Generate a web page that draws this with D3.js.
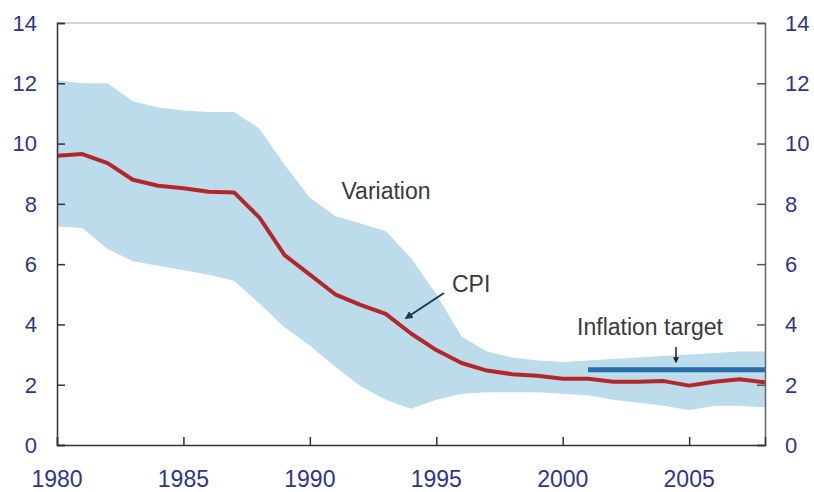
<!DOCTYPE html>
<html>
<head>
<meta charset="utf-8">
<script src="https://cdn.jsdelivr.net/npm/d3@7"></script>
<style>
  body { margin: 0; background: #fff; }
  text { font-family: Arial, "Liberation Sans", sans-serif; }
</style>
</head>
<body>
<div id="chart"></div>
<script>
const years = [1980, 1981, 1982, 1983, 1984, 1985, 1986, 1987, 1988, 1989,
    1990, 1991, 1992, 1993, 1994, 1995, 1996, 1997, 1998, 1999,
    2000, 2001, 2002, 2003, 2004, 2005, 2006, 2007, 2008];
const cpi = [9.6, 9.65, 9.35, 8.8, 8.6, 8.52, 8.4, 8.38, 7.55, 6.3,
    5.65, 5.0, 4.65, 4.35, 3.7, 3.15, 2.72, 2.47, 2.35, 2.3,
    2.2, 2.2, 2.1, 2.1, 2.12, 1.97, 2.1, 2.18, 2.08];
const upper = [12.1, 12.0, 12.0, 11.4, 11.2, 11.1, 11.05, 11.05, 10.5, 9.3,
    8.2, 7.6, 7.35, 7.1, 6.2, 5.0, 3.6, 3.1, 2.9, 2.8,
    2.75, 2.8, 2.85, 2.9, 2.95, 3.0, 3.05, 3.1, 3.1];
const lower = [7.25, 7.2, 6.5, 6.1, 5.95, 5.8, 5.65, 5.45, 4.7, 3.9,
    3.3, 2.6, 1.95, 1.5, 1.2, 1.5, 1.7, 1.75, 1.75, 1.75,
    1.7, 1.65, 1.5, 1.4, 1.3, 1.15, 1.3, 1.3, 1.25];
const targetYears = [2001, 2008];
const targetValue = 2.5;
const yTicks = [0, 2, 4, 6, 8, 10, 12, 14];
const xTicks = [1980, 1985, 1990, 1995, 2000, 2005];

const width = 814;
const height = 492;
const margin = { top: 23, right: 49, bottom: 47, left: 57 };

const svg = d3.select("#chart").append("svg")
    .attr("width", width)
    .attr("height", height);

const x = d3.scaleLinear().domain([1980, 2008]).range([margin.left, width - margin.right]);
const y = d3.scaleLinear().domain([0, 14]).range([height - margin.bottom, margin.top]);

const rows = years.map((yr, i) => ({ yr: yr, cpi: cpi[i], hi: upper[i], lo: lower[i] }));

// variation band
svg.append("path")
    .datum(rows)
    .attr("fill", "#bcdcec")
    .attr("d", d3.area()
        .x(d => x(d.yr))
        .y0(d => y(d.lo))
        .y1(d => y(d.hi)));

// inflation target
svg.append("line")
    .attr("x1", x(targetYears[0]))
    .attr("x2", x(targetYears[1]))
    .attr("y1", y(targetValue))
    .attr("y2", y(targetValue))
    .attr("stroke", "#2a6ca5")
    .attr("stroke-width", 5);

// cpi line
svg.append("path")
    .datum(rows)
    .attr("fill", "none")
    .attr("stroke", "#b3262a")
    .attr("stroke-width", 4)
    .attr("stroke-linejoin", "round")
    .attr("d", d3.line().x(d => x(d.yr)).y(d => y(d.cpi)));

// frame: top border light gray
svg.append("line")
    .attr("x1", x(1980)).attr("x2", x(2008))
    .attr("y1", y(14)).attr("y2", y(14))
    .attr("stroke", "#d4d4d4")
    .attr("stroke-width", 2);

const labelColor = "#2e3590";

// left axis
const left = svg.append("g")
    .attr("transform", `translate(${margin.left},0)`)
    .call(d3.axisRight(y).tickValues(yTicks).tickSize(8).tickFormat(""));
left.select(".domain").attr("stroke", "#333").attr("stroke-width", 1.5);
left.selectAll(".tick line").attr("stroke", "#333").attr("stroke-width", 1.5);

svg.append("g").selectAll("text")
    .data(yTicks)
    .enter()
    .append("text")
    .attr("x", 37)
    .attr("y", d => y(d))
    .attr("dy", "0.36em")
    .attr("text-anchor", "end")
    .attr("fill", labelColor)
    .style("font-size", "22px")
    .text(d => d);

// right axis
const right = svg.append("g")
    .attr("transform", `translate(${width - margin.right},0)`)
    .call(d3.axisLeft(y).tickValues(yTicks).tickSize(8).tickFormat(""));
right.select(".domain").attr("stroke", "#666").attr("stroke-width", 1.5);
right.selectAll(".tick line").attr("stroke", "#555").attr("stroke-width", 1.5);

svg.append("g").selectAll("text")
    .data(yTicks)
    .enter()
    .append("text")
    .attr("x", 785)
    .attr("y", d => y(d))
    .attr("dy", "0.36em")
    .attr("text-anchor", "start")
    .attr("fill", labelColor)
    .style("font-size", "22px")
    .text(d => d);

// bottom axis
const bottom = svg.append("g")
    .attr("transform", `translate(0,${height - margin.bottom})`)
    .call(d3.axisTop(x).tickValues(xTicks).tickSize(8).tickFormat(""));
bottom.select(".domain").attr("stroke", "#333").attr("stroke-width", 1.5);
bottom.selectAll(".tick line").attr("stroke", "#333").attr("stroke-width", 1.5);

svg.append("g").selectAll("text")
    .data(xTicks)
    .enter()
    .append("text")
    .attr("x", d => x(d))
    .attr("y", 487)
    .attr("text-anchor", "middle")
    .attr("fill", labelColor)
    .style("font-size", "23px")
    .text(d => d);

// annotations
const noteColor = "#3a3a3a";
svg.append("text")
    .attr("x", 386).attr("y", 199)
    .attr("text-anchor", "middle")
    .attr("fill", noteColor)
    .style("font-size", "23px")
    .text("Variation");

svg.append("text")
    .attr("x", 452).attr("y", 292)
    .attr("fill", noteColor)
    .style("font-size", "23px")
    .text("CPI");

svg.append("text")
    .attr("x", 650).attr("y", 335)
    .attr("text-anchor", "middle")
    .attr("fill", noteColor)
    .style("font-size", "23px")
    .text("Inflation target");

const defs = svg.append("defs");
defs.append("marker")
    .attr("id", "arrowCpi")
    .attr("viewBox", "0 0 10 10")
    .attr("refX", 8).attr("refY", 5)
    .attr("markerWidth", 4).attr("markerHeight", 4)
    .attr("orient", "auto")
    .append("path")
    .attr("d", "M0,0L10,5L0,10Z")
    .attr("fill", "#1f3550");
defs.append("marker")
    .attr("id", "arrowTarget")
    .attr("viewBox", "0 0 10 10")
    .attr("refX", 8).attr("refY", 5)
    .attr("markerWidth", 4).attr("markerHeight", 4)
    .attr("orient", "auto")
    .append("path")
    .attr("d", "M0,0L10,5L0,10Z")
    .attr("fill", "#222");

svg.append("line")
    .attr("x1", 444).attr("y1", 293)
    .attr("x2", 406).attr("y2", 318)
    .attr("stroke", "#1f3550")
    .attr("stroke-width", 2)
    .attr("marker-end", "url(#arrowCpi)");

svg.append("line")
    .attr("x1", 676).attr("y1", 347)
    .attr("x2", 676).attr("y2", 362)
    .attr("stroke", "#222")
    .attr("stroke-width", 1.5)
    .attr("marker-end", "url(#arrowTarget)");
</script>
</body>
</html>
